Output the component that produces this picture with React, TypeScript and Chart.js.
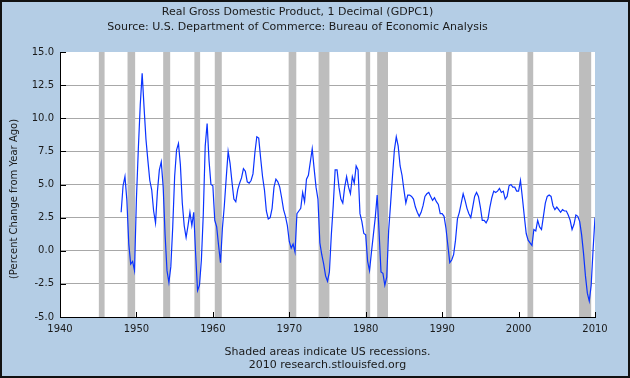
import React, { useEffect, useRef } from "react";
import { Chart, registerables } from "chart.js";

Chart.register(...registerables);

// Quarterly real GDP, percent change from year ago, starting 1948 Q1
const startYear = 1948;
const gdpYoY: number[] = [
  2.9, 4.9, 5.6, 3.8,
  0.5, -1.0, -0.8, -1.5,
  3.9, 7.7, 11.0, 13.4,
  10.8, 8.4, 6.8, 5.3,
  4.6, 3.0, 2.1, 4.5,
  6.1, 6.7, 4.8, 1.2,
  -1.5, -2.4, -1.2, 1.8,
  5.6, 7.6, 8.1, 6.5,
  3.6, 1.9, 1.0, 1.9,
  2.9, 1.9, 2.9, -0.3,
  -3.0, -2.6, -0.7, 2.8,
  7.9, 9.6, 6.8, 5.0,
  4.9, 2.3, 1.8, 0.4,
  -0.9, 1.7, 3.4, 5.5,
  7.5, 6.6, 5.2, 3.9,
  3.7, 4.6, 5.1, 5.5,
  6.2, 6.0, 5.2, 5.1,
  5.3, 5.8, 7.4, 8.6,
  8.5, 7.0, 5.6, 4.6,
  3.0, 2.4, 2.5, 3.2,
  4.8, 5.4, 5.2, 4.8,
  4.0, 3.1, 2.6, 1.9,
  0.7, 0.2, 0.5, -0.1,
  2.8, 3.0, 3.2, 4.4,
  3.7, 5.4, 5.7, 6.7,
  7.7, 6.2, 4.8, 3.9,
  0.6, -0.3, -1.0, -1.9,
  -2.3, -1.6, 1.2, 3.4,
  6.1, 6.1, 4.8, 3.9,
  3.6, 4.8, 5.6, 4.8,
  4.3, 5.6, 5.1, 6.4,
  6.1, 2.8, 2.2, 1.3,
  1.2, -0.8, -1.5, -0.1,
  1.2, 2.5, 4.2, 1.4,
  -1.6, -1.7, -2.6, -2.0,
  1.5, 3.5, 5.6, 7.6,
  8.6, 7.9, 6.4, 5.7,
  4.6, 3.6, 4.2, 4.2,
  4.1, 3.9, 3.3, 2.9,
  2.6, 2.9, 3.4, 4.1,
  4.3, 4.4, 4.1, 3.8,
  4.0, 3.7, 3.5, 2.8,
  2.8, 2.6, 1.7, 0.4,
  -0.9, -0.7, -0.3, 0.8,
  2.4, 2.9, 3.6, 4.3,
  3.8, 3.2, 2.8, 2.5,
  3.3, 4.1, 4.4, 4.1,
  3.3, 2.3, 2.3, 2.1,
  2.4, 3.3, 4.0, 4.5,
  4.4, 4.5, 4.7, 4.4,
  4.5, 3.9, 4.1, 4.9,
  5.0, 4.8, 4.8, 4.5,
  4.5, 5.3, 4.0, 2.6,
  1.3, 0.8, 0.6, 0.4,
  1.6, 1.5, 2.3, 1.8,
  1.6, 2.6, 3.6, 4.1,
  4.2, 4.1, 3.4, 3.1,
  3.3, 3.1, 2.9, 3.1,
  3.0, 3.0, 2.7, 2.3,
  1.6, 2.0, 2.7, 2.6,
  2.2, 1.2, -0.2, -1.9,
  -3.2, -3.8, -2.6, 0.1,
  2.5,
];

// NBER recessions (peak month, trough month)
const recessionPeaks = ["1945-02", "1948-11", "1953-07", "1957-08", "1960-04", "1969-12", "1973-11", "1980-01", "1981-07", "1990-07", "2001-03", "2007-12"];
const recessionTroughs = ["1945-10", "1949-10", "1954-05", "1958-04", "1961-02", "1970-11", "1975-03", "1980-07", "1982-11", "1991-03", "2001-11", "2009-06"];

const xTickYears = [1940, 1950, 1960, 1970, 1980, 1990, 2000, 2010];
const yTickValues = [-5, -2.5, 0, 2.5, 5, 7.5, 10, 12.5, 15];

const titleText = "Real Gross Domestic Product, 1 Decimal (GDPC1)";
const subtitleText = "Source: U.S. Department of Commerce: Bureau of Economic Analysis";
const yAxisTitle = "(Percent Change from Year Ago)";
const noteLines = ["Shaded areas indicate US recessions.", "2010 research.stlouisfed.org"];

const FONT = "'DejaVu Sans', Verdana, sans-serif";
const BG = "#B4CDE5";
const TEXT = "#1a1a1a";

const monthToYear = (s: string, end: boolean) => {
  const [y, m] = s.split("-").map(Number);
  return y + (m - (end ? 0 : 1)) / 12;
};

const framePlugin = {
  id: "frame",
  beforeDraw(chart: any) {
    const { ctx, chartArea, width, height } = chart;
    ctx.save();
    ctx.fillStyle = BG;
    ctx.fillRect(0, 0, width, height);
    ctx.fillStyle = "#ffffff";
    ctx.fillRect(chartArea.left, chartArea.top, chartArea.right - chartArea.left, chartArea.bottom - chartArea.top);
    ctx.restore();
  },
  beforeDatasetsDraw(chart: any) {
    const { ctx, chartArea, scales } = chart;
    const xs = scales.x;
    ctx.save();
    ctx.fillStyle = "#BDBDBD";
    recessionPeaks.forEach((p, i) => {
      const x0 = xs.getPixelForValue(monthToYear(p, false));
      const x1 = xs.getPixelForValue(monthToYear(recessionTroughs[i], true));
      ctx.fillRect(x0, chartArea.top, x1 - x0, chartArea.bottom - chartArea.top);
    });
    ctx.restore();
  },
  afterDatasetsDraw(chart: any) {
    const { ctx, chartArea, scales } = chart;
    ctx.save();
    ctx.strokeStyle = "#000000";
    ctx.lineWidth = 1;
    // inward ticks on y axis
    yTickValues.forEach((v) => {
      const y = Math.round(scales.y.getPixelForValue(v)) + 0.5;
      ctx.beginPath();
      ctx.moveTo(chartArea.left, y);
      ctx.lineTo(chartArea.left + 6, y);
      ctx.stroke();
    });
    // inward ticks on x axis
    xTickYears.forEach((v) => {
      const x = Math.round(scales.x.getPixelForValue(v)) + 0.5;
      ctx.beginPath();
      ctx.moveTo(x, chartArea.bottom);
      ctx.lineTo(x, chartArea.bottom - 5);
      ctx.stroke();
    });
    // axis lines
    ctx.beginPath();
    ctx.moveTo(chartArea.left + 0.5, chartArea.top);
    ctx.lineTo(chartArea.left + 0.5, chartArea.bottom + 0.5);
    ctx.lineTo(chartArea.right + 1, chartArea.bottom + 0.5);
    ctx.stroke();
    ctx.restore();
  },
  afterDraw(chart: any) {
    const { ctx, width, height, chartArea } = chart;
    ctx.save();
    ctx.fillStyle = TEXT;
    ctx.font = `10px ${FONT}`;
    ctx.textAlign = "center";
    ctx.textBaseline = "middle";
    ctx.translate(14, 199);
    ctx.rotate(-Math.PI / 2);
    ctx.fillText(yAxisTitle, 0, 0);
    ctx.restore();
    ctx.save();
    ctx.strokeStyle = "#111111";
    ctx.lineWidth = 2;
    ctx.strokeRect(1, 1, width - 2, height - 2);
    ctx.restore();
  },
};

export default function App() {
  const canvasRef = useRef<HTMLCanvasElement | null>(null);

  useEffect(() => {
    document.body.style.margin = "0";
    const canvas = canvasRef.current;
    if (!canvas) return;
    const points = gdpYoY.map((v, i) => ({ x: startYear + i * 0.25, y: v }));
    const chart = new Chart(canvas, {
      type: "line",
      data: {
        datasets: [
          {
            data: points,
            borderColor: "#0a33ff",
            borderWidth: 1.2,
            pointRadius: 0,
            tension: 0,
            fill: false,
          },
        ],
      },
      options: {
        animation: false,
        responsive: false,
        devicePixelRatio: 1,
        layout: { padding: { left: 0, right: 35, top: 0, bottom: 0 } },
        plugins: {
          legend: { display: false },
          tooltip: { enabled: false },
          title: {
            display: true,
            text: titleText,
            color: TEXT,
            font: { family: FONT, size: 11, weight: "normal", lineHeight: 1.2 },
            padding: { top: 5.4, bottom: 1.8 },
          },
          subtitle: {
            display: true,
            text: subtitleText,
            color: TEXT,
            font: { family: FONT, size: 11, weight: "normal", lineHeight: 1.2 },
            padding: { top: 0, bottom: 18.4 },
          },
        },
        scales: {
          x: {
            type: "linear",
            min: 1940,
            max: 2010,
            grid: { display: false, drawTicks: false },
            border: { display: false },
            afterFit: (scale: any) => {
              scale.height = 61;
            },
            afterBuildTicks: (scale: any) => {
              scale.ticks = xTickYears.map((v) => ({ value: v }));
            },
            ticks: {
              color: TEXT,
              font: { family: FONT, size: 10 },
              padding: 6,
              maxRotation: 0,
              autoSkip: false,
              callback: (v: any) => String(v),
            },
            title: {
              display: true,
              text: noteLines,
              color: TEXT,
              font: { family: FONT, size: 11, lineHeight: 13 / 11 },
              padding: { top: 0, bottom: 6.5 },
            },
          },
          y: {
            min: -5,
            max: 15,
            afterFit: (scale: any) => {
              scale.width = 60;
            },
            afterBuildTicks: (scale: any) => {
              scale.ticks = yTickValues.map((v) => ({ value: v }));
            },
            grid: {
              drawTicks: false,
              lineWidth: 1,
              color: (c: any) => (c.tick && (c.tick.value === 15 || c.tick.value === -5) ? "rgba(0,0,0,0)" : "#A8A8A8"),
            },
            border: { display: false },
            ticks: {
              color: TEXT,
              font: { family: FONT, size: 10 },
              padding: 6,
              callback: (v: any) => Number(v).toFixed(1),
            },
          },
        },
      },
      plugins: [framePlugin],
    });
    return () => chart.destroy();
  }, []);

  return (
    <div style={{ width: 630, height: 378 }}>
      <canvas ref={canvasRef} width={630} height={378} style={{ display: "block" }} />
    </div>
  );
}
